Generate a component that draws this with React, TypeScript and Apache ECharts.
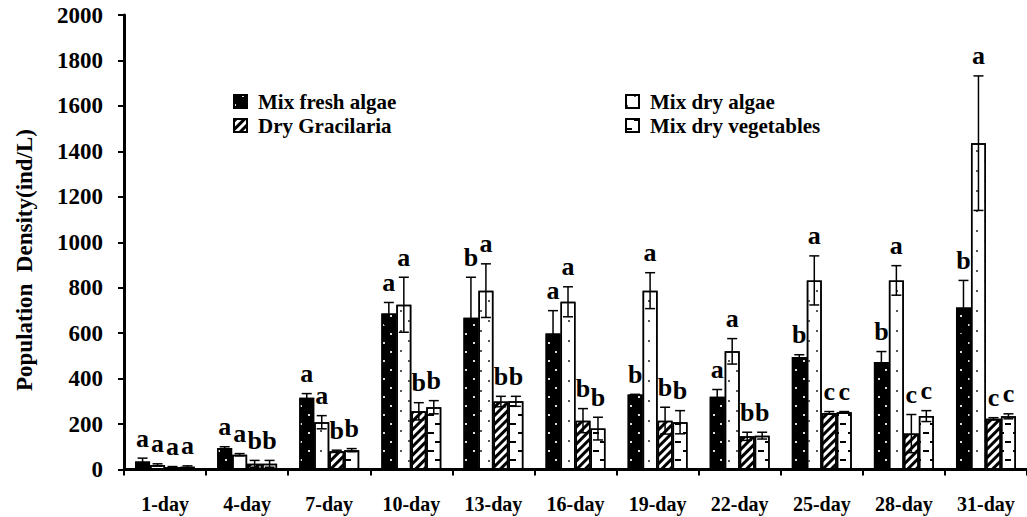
import React, { useEffect, useRef } from "react";
import * as echarts from "echarts";

const categories = ["1-day", "4-day", "7-day", "10-day", "13-day", "16-day", "19-day", "22-day", "25-day", "28-day", "31-day"];
const seriesNames = ["Mix fresh algae", "Mix dry algae", "Dry Gracilaria", "Mix dry vegetables"];

const freshAlgae = [35, 95, 316, 686, 668, 598, 330, 320, 495, 473, 713];
const freshAlgaeErr = [15, 5, 18, 49, 178, 101, 0, 32, 10, 46, 119];
const dryAlgae = [20, 65, 208, 725, 787, 738, 787, 520, 832, 832, 1436];
const dryAlgaeErr = [5, 5, 29, 121, 118, 66, 79, 56, 108, 65, 296];
const gracilaria = [10, 25, 80, 256, 299, 215, 215, 146, 249, 158, 223];
const gracilariaErr = [3, 15, 5, 38, 23, 53, 59, 18, 6, 84, 5];
const vegetables = [12, 25, 85, 274, 300, 180, 208, 149, 252, 235, 234];
const vegetablesErr = [4, 15, 7, 29, 22, 50, 51, 15, 3, 24, 11];

const freshLetters = ["a", "a", "a", "a", "b", "a", "b", "a", "b", "b", "b"];
const dryAlgaeLetters = ["a", "a", "a", "a", "a", "a", "a", "a", "a", "a", "a"];
const gracilariaLetters = ["a", "b", "b", "b", "b", "b", "b", "b", "c", "c", "c"];
const vegetablesLetters = ["a", "b", "b", "b", "b", "b", "b", "b", "c", "c", "c"];

const yTicks = { min: 0, max: 2000, interval: 200 };

const FONT = "Liberation Serif";
const GAP = 0.27;

const values = [freshAlgae, dryAlgae, gracilaria, vegetables];
const errors = [freshAlgaeErr, dryAlgaeErr, gracilariaErr, vegetablesErr];
const letters = [freshLetters, dryAlgaeLetters, gracilariaLetters, vegetablesLetters];

const styles: any[] = [
  {
    color: "#000",
    borderColor: "#000",
    borderWidth: 1.5,
    decal: { symbol: "rect", symbolSize: 1, color: "#ddd", dashArrayX: [[2, 13], [0, 8, 2, 5]], dashArrayY: [2, 7] },
  },
  {
    color: "#fff",
    borderColor: "#000",
    borderWidth: 1.5,
    decal: { symbol: "rect", symbolSize: 1, color: "#555", dashArrayX: [[1.5, 13.5], [0, 8, 1.5, 5.5]], dashArrayY: [1.5, 8] },
  },
  {
    color: "#fff",
    borderColor: "#000",
    borderWidth: 1.5,
    decal: { symbol: "rect", symbolSize: 1, color: "#000", dashArrayX: [1, 0], dashArrayY: [2.5, 3], rotation: -Math.PI / 4 },
  },
  {
    color: "#fff",
    borderColor: "#000",
    borderWidth: 1.5,
    decal: { symbol: "rect", symbolSize: 1, color: "#000", dashArrayX: [[6, 9], [0, 8, 6, 1]], dashArrayY: [2, 7] },
  },
];

export default function App() {
  const ref = useRef<HTMLDivElement>(null);
  useEffect(() => {
    if (!ref.current) return;
    const chart = echarts.init(ref.current, null, { renderer: "svg" });

    const barSeries = seriesNames.map((name, i) => ({
      name,
      type: "bar",
      data: values[i],
      barGap: "0%",
      barCategoryGap: `${GAP * 100}%`,
      itemStyle: styles[i],
      z: 2,
    }));

    const errSeries = seriesNames.map((name, si) => ({
      name: name + " err",
      type: "custom",
      z: 5,
      silent: true,
      data: values[si].map((v, ci) => [ci, v, errors[si][ci]]),
      renderItem: (params: any, api: any) => {
        const ci = api.value(0);
        const v = api.value(1);
        const e = api.value(2);
        const base = api.coord([ci, v]);
        const band = api.size([1, 0])[0];
        const bw = (band * (1 - GAP)) / 4;
        const x = base[0] + (si - 1.5) * bw;
        const top = api.coord([ci, v + e])[1];
        const bot = api.coord([ci, Math.max(0, v - e)])[1];
        const cap = 5;
        const ls = { stroke: "#000", lineWidth: 1.5 };
        return {
          type: "group",
          children: [
            { type: "line", shape: { x1: x, y1: top, x2: x, y2: bot }, style: ls },
            { type: "line", shape: { x1: x - cap, y1: top, x2: x + cap, y2: top }, style: ls },
            { type: "line", shape: { x1: x - cap, y1: bot, x2: x + cap, y2: bot }, style: ls },
            {
              type: "text",
              style: {
                text: letters[si][ci],
                x,
                y: top - 7,
                align: "center",
                verticalAlign: "bottom",
                fontSize: 26,
                fontWeight: "bold",
                fontFamily: FONT,
                fill: "#000",
              },
            },
          ],
        };
      },
    }));

    const legendCommon = {
      orient: "vertical",
      icon: "rect",
      itemWidth: 13,
      itemHeight: 13,
      itemGap: 3,
      selectedMode: false,
      textStyle: {
        fontSize: 21,
        fontWeight: "bold",
        fontFamily: FONT,
        color: "#000",
        padding: [0, 0, 0, 6],
      },
    };

    chart.setOption({
      animation: false,
      backgroundColor: "#fff",
      textStyle: { fontFamily: FONT, fontWeight: "bold" },
      grid: { left: 124, right: -10, top: 15, bottom: 47.5 },
      legend: [
        { ...legendCommon, left: 228, top: 86, data: [seriesNames[0], seriesNames[2]] },
        { ...legendCommon, left: 620, top: 86, data: [seriesNames[1], seriesNames[3]] },
      ],
      xAxis: {
        type: "category",
        data: categories,
        axisLine: { lineStyle: { color: "#000", width: 3 } },
        axisTick: { show: true, length: 6, lineStyle: { color: "#000", width: 2 } },
        axisLabel: { margin: 24, fontSize: 20, fontWeight: "bold", fontFamily: FONT, color: "#000" },
      },
      yAxis: {
        type: "value",
        min: yTicks.min,
        max: yTicks.max,
        interval: yTicks.interval,
        splitLine: { show: false },
        axisLine: { show: true, lineStyle: { color: "#000", width: 3 } },
        axisTick: { show: true, length: 6, lineStyle: { color: "#000", width: 2 } },
        axisLabel: {
          margin: 21,
          fontSize: 23,
          fontWeight: "bold",
          fontFamily: FONT,
          color: "#000",
          formatter: (v: number) => String(v),
        },
      },
      graphic: [
        {
          type: "text",
          x: 24,
          y: 260,
          rotation: Math.PI / 2,
          style: {
            text: "Population  Density(ind/L)",
            align: "center",
            verticalAlign: "middle",
            fontSize: 23,
            fontWeight: "bold",
            fontFamily: FONT,
            fill: "#000",
          },
        },
      ],
      series: [...barSeries, ...errSeries],
    });

    return () => chart.dispose();
  }, []);

  return (
    <div
      ref={ref}
      style={{ position: "fixed", left: 0, top: 0, width: 1027, height: 517, background: "#fff" }}
    />
  );
}
